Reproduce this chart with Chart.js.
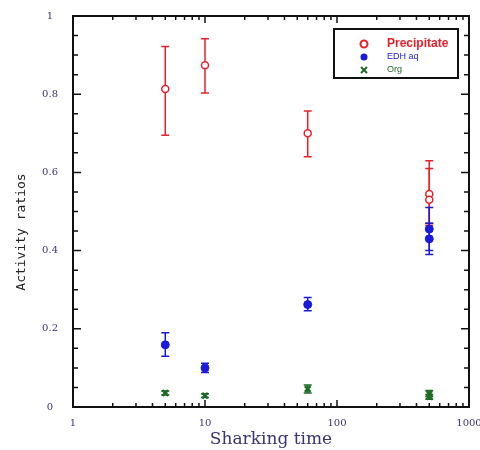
<!DOCTYPE html>
<html lang="en">
<head>
    <meta charset="UTF-8">
    <title>Activity ratios</title>
    <style>
        body { margin: 0; background: #fff; }
        #chart { display: block; }
    </style>
</head>
<body>
    <canvas id="chart" width="480" height="450"></canvas>
    <script src="https://cdn.jsdelivr.net/npm/chart.js"></script>
    <script>
        // data
        var times = [5, 10, 60, 500, 500];
        var precipitate = [0.813, 0.874, 0.700, 0.545, 0.530];
        var precipitateLow = [0.695, 0.803, 0.640, 0.470, 0.465];
        var precipitateHigh = [0.922, 0.942, 0.757, 0.630, 0.610];
        var edhAq = [0.159, 0.100, 0.262, 0.455, 0.430];
        var edhAqLow = [0.130, 0.088, 0.246, 0.400, 0.390];
        var edhAqHigh = [0.190, 0.112, 0.280, 0.510, 0.470];
        var org = [0.036, 0.029, 0.046, 0.034, 0.026];
        var orgLow = [0.031, 0.024, 0.036, 0.026, 0.020];
        var orgHigh = [0.041, 0.034, 0.056, 0.042, 0.032];
        var xTickLabels = [1, 10, 100, 1000];
        var yTickLabels = [0, 0.2, 0.4, 0.6, 0.8, 1];
        var yTitle = 'Activity ratios';

        function pts(ys) {
            return ys.map(function(y, i) { return { x: times[i], y: y }; });
        }

        var errorBars = {
            id: 'errorBars',
            beforeDatasetsDraw: function(chart) {
                var ctx = chart.ctx;
                var xs = chart.scales.x, ys = chart.scales.y;
                chart.data.datasets.forEach(function(ds) {
                    ctx.save();
                    ctx.strokeStyle = ds.borderColor;
                    ctx.lineWidth = 1.5;
                    ds.low.forEach(function(lo, i) {
                        var px = xs.getPixelForValue(times[i]);
                        var p1 = ys.getPixelForValue(lo);
                        var p2 = ys.getPixelForValue(ds.high[i]);
                        ctx.beginPath();
                        ctx.moveTo(px, p1); ctx.lineTo(px, p2);
                        ctx.moveTo(px - 4, p1); ctx.lineTo(px + 4, p1);
                        ctx.moveTo(px - 4, p2); ctx.lineTo(px + 4, p2);
                        ctx.stroke();
                    });
                    ctx.restore();
                });
            }
        };

        var frame = {
            id: 'frame',
            afterDraw: function(chart) {
                var ctx = chart.ctx, a = chart.chartArea;
                var xs = chart.scales.x, ys = chart.scales.y;
                ctx.save();
                ctx.strokeStyle = '#111';
                ctx.lineWidth = 2;
                ctx.strokeRect(a.left, a.top, a.right - a.left, a.bottom - a.top);
                ctx.lineWidth = 1.5;
                ctx.beginPath();
                // x ticks, bottom and top, pointing inward
                for (var d = 1; d < 1000; d *= 10) {
                    for (var m = 1; m <= 10; m++) {
                        var px = xs.getPixelForValue(d * m);
                        var len = (m === 1 || m === 10) ? 7 : 4;
                        ctx.moveTo(px, a.bottom); ctx.lineTo(px, a.bottom - len);
                        ctx.moveTo(px, a.top); ctx.lineTo(px, a.top + len);
                    }
                }
                // y ticks, left and right
                for (var k = 0; k <= 20; k++) {
                    var py = ys.getPixelForValue(k * 0.05);
                    var l = (k % 4 === 0) ? 8 : 5;
                    ctx.moveTo(a.left, py); ctx.lineTo(a.left + l, py);
                    ctx.moveTo(a.right, py); ctx.lineTo(a.right - l, py);
                }
                ctx.stroke();

                // y axis title, sits a bit below the middle in the original
                ctx.save();
                ctx.translate(22, 232);
                ctx.rotate(-Math.PI / 2);
                ctx.fillStyle = '#222';
                ctx.font = '13px "DejaVu Sans Mono"';
                ctx.textAlign = 'center';
                ctx.textBaseline = 'middle';
                ctx.fillText(yTitle, 0, 0);
                ctx.restore();

                // legend box
                var bx = 334, by = 29, bw = 124, bh = 49;
                ctx.lineWidth = 2;
                ctx.fillStyle = '#fff';
                ctx.fillRect(bx, by, bw, bh);
                ctx.strokeRect(bx, by, bw, bh);
                var fonts = ['bold 12px Arial', '9px Arial', '9px Arial'];
                chart.data.datasets.forEach(function(ds, i) {
                    var cy = by + 15 + i * 13;
                    var cx = bx + 30;
                    ctx.strokeStyle = ds.borderColor;
                    ctx.fillStyle = ds.borderColor;
                    ctx.lineWidth = 2;
                    ctx.beginPath();
                    if (ds.pointStyle === 'crossRot') {
                        ctx.moveTo(cx - 3, cy - 3); ctx.lineTo(cx + 3, cy + 3);
                        ctx.moveTo(cx + 3, cy - 3); ctx.lineTo(cx - 3, cy + 3);
                        ctx.stroke();
                    } else {
                        ctx.arc(cx, cy, 3.5, 0, Math.PI * 2);
                        if (ds.backgroundColor === '#fff') ctx.stroke(); else ctx.fill();
                    }
                    ctx.font = fonts[i];
                    ctx.textBaseline = 'middle';
                    ctx.fillText(ds.label, bx + 53, cy);
                });
                ctx.restore();
            }
        };

        new Chart(document.getElementById('chart').getContext('2d'), {
            type: 'scatter',
            data: {
                datasets: [{
                    label: 'Precipitate',
                    data: pts(precipitate),
                    low: precipitateLow, high: precipitateHigh,
                    borderColor: '#e8202a',
                    backgroundColor: '#fff',
                    pointStyle: 'circle',
                    pointRadius: 3.5,
                    borderWidth: 1.5
                }, {
                    label: 'EDH aq',
                    data: pts(edhAq),
                    low: edhAqLow, high: edhAqHigh,
                    borderColor: '#1a1adc',
                    backgroundColor: '#1a1adc',
                    pointStyle: 'circle',
                    pointRadius: 4,
                    borderWidth: 1
                }, {
                    label: 'Org',
                    data: pts(org),
                    low: orgLow, high: orgHigh,
                    borderColor: '#1d6b25',
                    backgroundColor: '#1d6b25',
                    pointStyle: 'crossRot',
                    pointRadius: 4,
                    borderWidth: 2.5
                }]
            },
            options: {
                responsive: false,
                animation: false,
                layout: { padding: { top: 16, right: 11, left: 0, bottom: 0 } },
                plugins: { legend: { display: false }, tooltip: { enabled: false } },
                scales: {
                    x: {
                        type: 'logarithmic',
                        min: 1, max: 1000,
                        afterBuildTicks: function(s) {
                            s.ticks = xTickLabels.map(function(v) { return { value: v }; });
                        },
                        afterFit: function(s) {
                            s.height = 43;
                            s.paddingLeft = 0;
                            s.paddingRight = 0;
                        },
                        ticks: {
                            autoSkip: false, maxRotation: 0,
                            padding: 10,
                            color: '#3a3470',
                            font: { family: 'DejaVu Serif', size: 10 },
                            callback: function(v) { return String(v); }
                        },
                        grid: { display: false, drawTicks: false },
                        border: { display: false },
                        title: {
                            display: true, text: 'Sharking time',
                            color: '#3a3470',
                            font: { family: 'DejaVu Serif', size: 17 },
                            padding: { top: 0, bottom: 0 }
                        }
                    },
                    y: {
                        min: 0, max: 1,
                        afterBuildTicks: function(s) {
                            s.ticks = yTickLabels.map(function(v) { return { value: v }; });
                        },
                        afterFit: function(s) {
                            s.width = 73;
                            s.paddingTop = 0;
                            s.paddingBottom = 0;
                        },
                        ticks: {
                            padding: 15,
                            crossAlign: 'center',
                            color: '#3a3470',
                            font: { family: 'DejaVu Serif', size: 10 },
                            callback: function(v) { return v === 0 || v === 1 ? String(v) : v.toFixed(1); }
                        },
                        grid: { display: false, drawTicks: false },
                        border: { display: false }
                    }
                }
            },
            plugins: [errorBars, frame]
        });
    </script>
</body>
</html>
